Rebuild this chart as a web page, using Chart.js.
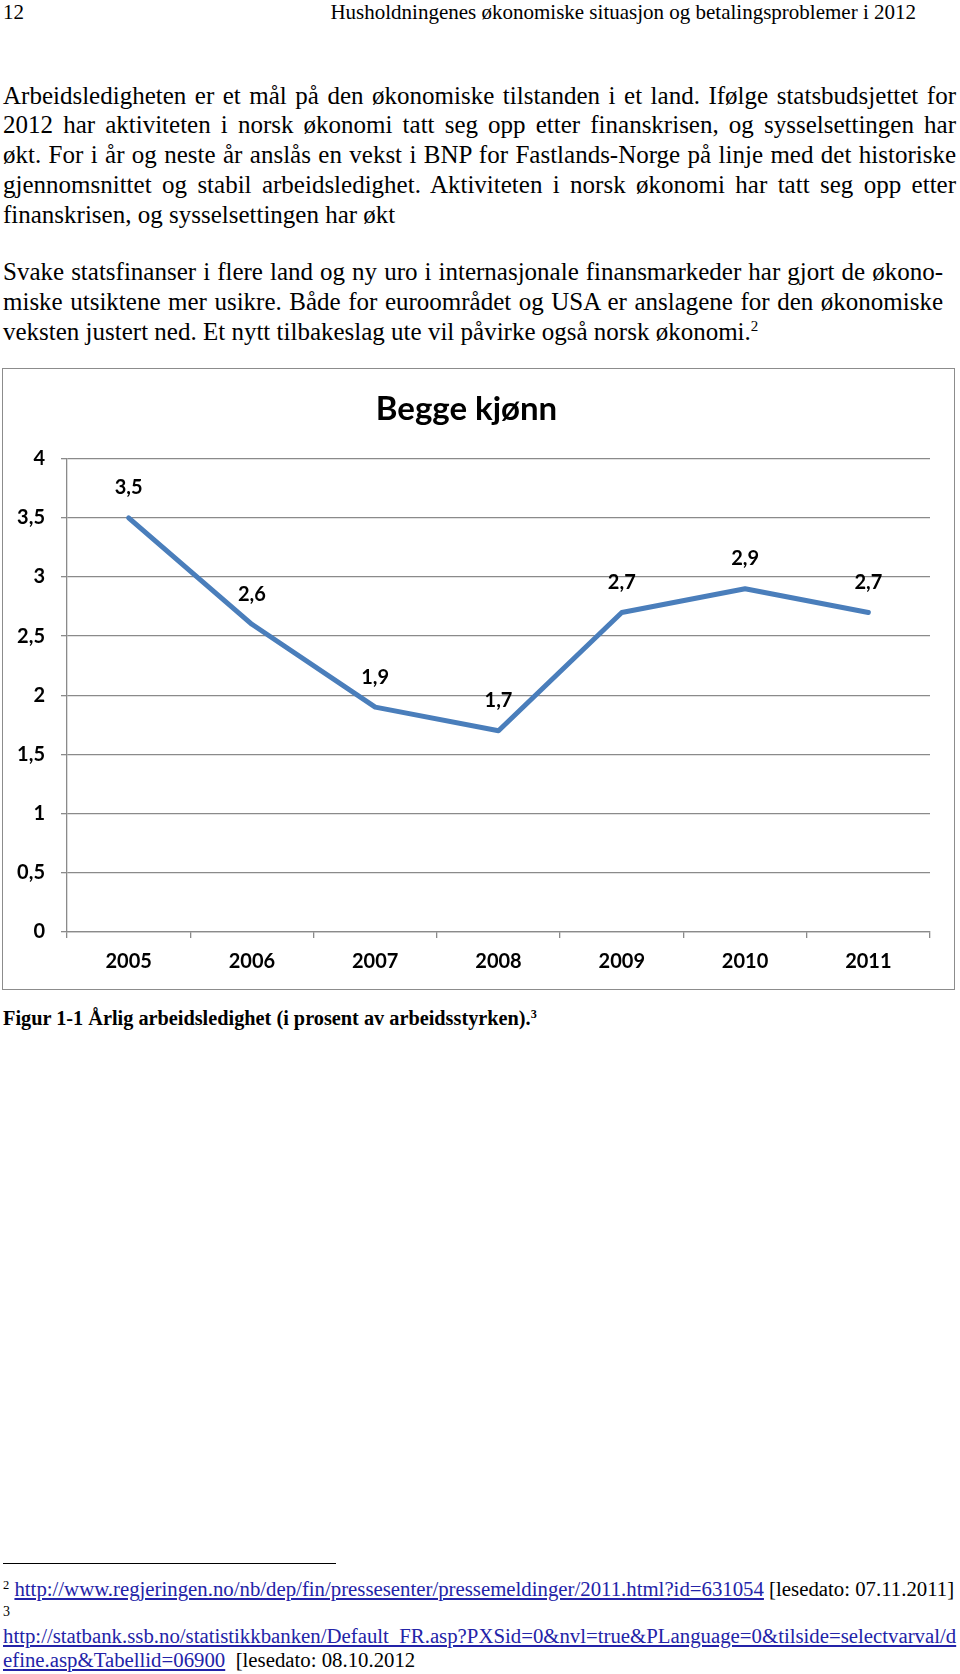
<!DOCTYPE html>
<html>
<head>
<meta charset="utf-8">
<script src="https://cdn.jsdelivr.net/npm/chart.js@4"></script>
<style>
    html, body { margin: 0; padding: 0; background: #fff; }
    body { width: 960px; height: 1674px; position: relative; overflow: hidden; font-family: "Liberation Serif", "Times New Roman", serif; color: #000; }
    .ln { position: absolute; left: 3px; white-space: nowrap; }
    .body { font-size: 25px; line-height: 30px; height: 30px; }
    .just { text-align: justify; text-align-last: justify; }
    .hdr { font-size: 21px; line-height: 24px; }
    .cap { font-size: 20.3px; line-height: 24px; font-weight: bold; }
    .fn { font-size: 20.8px; line-height: 24px; }
    .fn a { color: #2323a8; text-decoration: underline; }
    sup { font-size: 60%; line-height: 0; vertical-align: 0.6em; }
    #chartBox { position: absolute; left: 2px; top: 368px; width: 951px; height: 620px; border: 1px solid #8c8c8c; }
    #rule { position: absolute; left: 3px; top: 1563px; width: 333px; height: 1px; background: #000; }
</style>
</head>
<body>

<div class="ln hdr" style="top:0px;">12</div>
<div class="ln hdr" style="top:0px; left:auto; right:44px;">Husholdningenes økonomiske situasjon og betalingsproblemer i 2012</div>

<div class="ln body just" style="top:81px; width:953px;">Arbeidsledigheten er et mål på den økonomiske tilstanden i et land. Ifølge statsbudsjettet for</div>
<div class="ln body just" style="top:110px; width:953px;">2012 har aktiviteten i norsk økonomi tatt seg opp etter finanskrisen, og sysselsettingen har</div>
<div class="ln body just" style="top:140px; width:953px;">økt. For i år og neste år anslås en vekst i BNP for Fastlands-Norge på linje med det historiske</div>
<div class="ln body just" style="top:170px; width:953px;">gjennomsnittet og stabil arbeidsledighet. Aktiviteten i norsk økonomi har tatt seg opp etter</div>
<div class="ln body" style="top:200px;">finanskrisen, og sysselsettingen har økt</div>

<div class="ln body just" style="top:257px; width:940px;">Svake statsfinanser i flere land og ny uro i internasjonale finansmarkeder har gjort de økono-</div>
<div class="ln body just" style="top:287px; width:940px;">miske utsiktene mer usikre. Både for euroområdet og USA er anslagene for den økonomiske</div>
<div class="ln body" style="top:317px;">veksten justert ned. Et nytt tilbakeslag ute vil påvirke også norsk økonomi.<sup>2</sup></div>

<div id="chartBox"><canvas id="chart" width="951" height="620"></canvas></div>

<div class="ln cap" style="top:1006px;">Figur 1-1 Årlig arbeidsledighet (i prosent av arbeidsstyrken).<sup>3</sup></div>

<div id="rule"></div>
<div class="ln fn" style="top:1577px;"><sup>2</sup> <a>http://www.regjeringen.no/nb/dep/fin/pressesenter/pressemeldinger/2011.html?id=631054</a> [lesedato: 07.11.2011]</div>
<div class="ln fn" style="top:1600px; font-size:14px;">3</div>
<div class="ln fn" style="top:1624px;"><a>http://statbank.ssb.no/statistikkbanken/Default_FR.asp?PXSid=0&amp;nvl=true&amp;PLanguage=0&amp;tilside=selectvarval/d</a></div>
<div class="ln fn" style="top:1648px;"><a>efine.asp&amp;Tabellid=06900</a>&nbsp; [lesedato: 08.10.2012</div>

<script>
// Årlig arbeidsledighet, begge kjønn (prosent av arbeidsstyrken)
const years = ['2005', '2006', '2007', '2008', '2009', '2010', '2011'];
const unemployment = [3.5, 2.6, 1.9, 1.7, 2.7, 2.9, 2.7];
const yTickLabels = ['0', '0,5', '1', '1,5', '2', '2,5', '3', '3,5', '4'];

const gridGray = '#8a8a8a';
const labelFont = { family: 'Lato', size: 20, weight: 'bold' };

// verdietiketter over hvert punkt, med komma som desimaltegn
const pointLabels = {
    id: 'pointLabels',
    afterDatasetsDraw(chart) {
        const ctx = chart.ctx;
        const meta = chart.getDatasetMeta(0);
        ctx.save();
        ctx.font = 'bold 20px Lato';
        ctx.fillStyle = '#000';
        ctx.textAlign = 'center';
        ctx.textBaseline = 'middle';
        meta.data.forEach(function (pt, i) {
            const txt = String(unemployment[i]).replace('.', ',');
            ctx.fillText(txt, pt.x, pt.y - 30);
        });
        ctx.restore();
    }
};

const ctx = document.getElementById('chart').getContext('2d');
new Chart(ctx, {
    type: 'line',
    data: {
        labels: years,
        datasets: [{
            label: 'Begge kjønn',
            data: unemployment,
            borderColor: '#4a7ebb',
            borderWidth: 5,
            borderJoinStyle: 'round',
            borderCapStyle: 'round',
            pointRadius: 0,
            tension: 0,
            fill: false
        }]
    },
    options: {
        responsive: false,
        animation: false,
        devicePixelRatio: 1,
        layout: { padding: { left: 0, right: 24, top: 0, bottom: 0 } },
        plugins: {
            legend: { display: false },
            tooltip: { enabled: false },
            title: {
                display: true,
                text: 'Begge kjønn',
                color: '#000',
                font: { family: 'Lato', size: 33, weight: 'bold' },
                padding: { top: 21, bottom: 29 }
            }
        },
        scales: {
            x: {
                offset: true,
                afterFit: function (scale) { scale.height = 57; },
                grid: {
                    offset: true,
                    drawOnChartArea: false,
                    drawTicks: true,
                    tickLength: 6,
                    color: gridGray,
                    lineWidth: 1.3
                },
                border: { display: true, color: gridGray, width: 1.3 },
                ticks: { color: '#000', font: labelFont, padding: 12, maxRotation: 0 }
            },
            y: {
                min: 0,
                max: 4,
                afterFit: function (scale) { scale.width = 64; },
                ticks: {
                    stepSize: 0.5,
                    color: '#000',
                    font: labelFont,
                    padding: 16,
                    callback: function (value, index) { return yTickLabels[index]; }
                },
                grid: {
                    color: gridGray,
                    lineWidth: 1.3,
                    drawTicks: true,
                    tickLength: 6
                },
                border: { display: true, color: gridGray, width: 1.3 }
            }
        }
    },
    plugins: [pointLabels]
});
</script>
</body>
</html>
